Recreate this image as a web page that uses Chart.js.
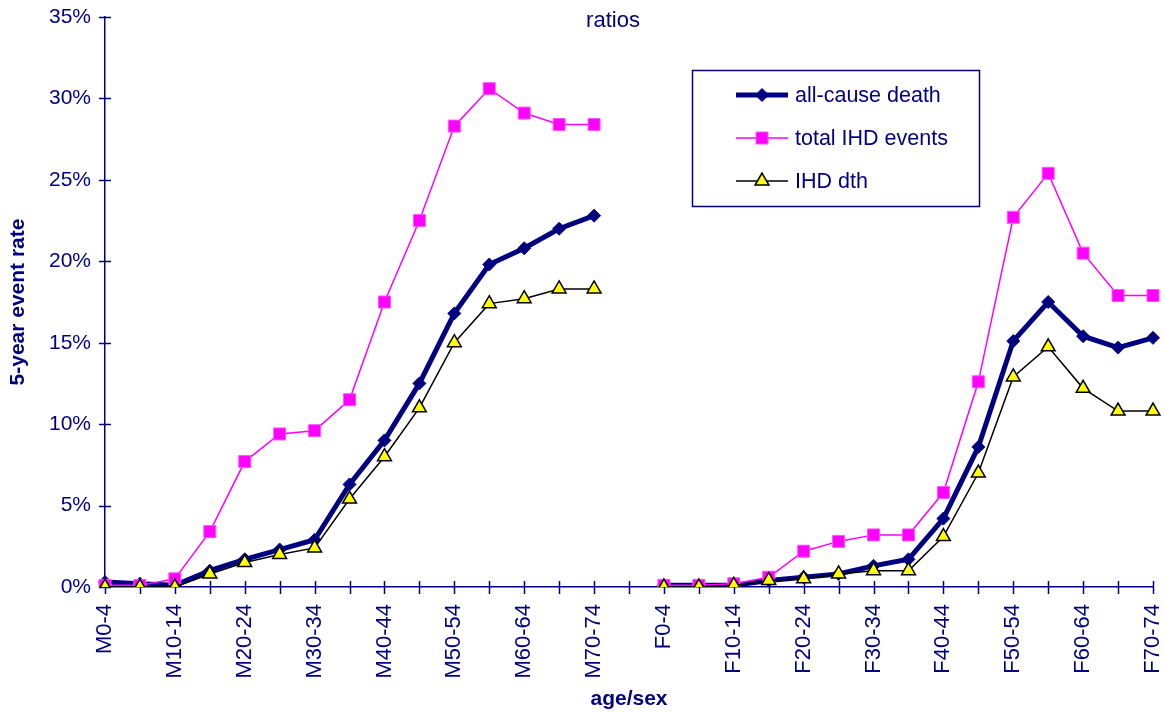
<!DOCTYPE html>
<html>
<head>
<meta charset="utf-8">
<script src="https://cdn.jsdelivr.net/npm/chart.js@4.4.0/dist/chart.umd.min.js"></script>
<style>
  html, body { margin: 0; padding: 0; background: #fff; }
  #wrap { width: 1164px; height: 715px; }
</style>
</head>
<body>
<div id="wrap"><canvas id="chart" width="1164" height="715"></canvas></div>
<script>
// Categories (M = male, F = female), one blank slot between the two halves
const maleGroups = ['M0-4', 'M5-9', 'M10-14', 'M15-19', 'M20-24', 'M25-29', 'M30-34', 'M35-39',
  'M40-44', 'M45-49', 'M50-54', 'M55-59', 'M60-64', 'M65-69', 'M70-74'];
const femaleGroups = ['F0-4', 'F5-9', 'F10-14', 'F15-19', 'F20-24', 'F25-29', 'F30-34', 'F35-39',
  'F40-44', 'F45-49', 'F50-54', 'F55-59', 'F60-64', 'F65-69', 'F70-74'];

// 5-year event rates, %
const maleAllCause = [0.3, 0.2, 0.1, 1.0, 1.7, 2.3, 2.9, 6.3, 9.0, 12.5, 16.8, 19.8, 20.8, 22.0, 22.8];
const femaleAllCause = [0.1, 0.1, 0.1, 0.4, 0.6, 0.8, 1.3, 1.7, 4.2, 8.6, 15.1, 17.5, 15.4, 14.7, 15.3];

const maleIhdEvents = [0.1, 0.1, 0.5, 3.4, 7.7, 9.4, 9.6, 11.5, 17.5, 22.5, 28.3, 30.6, 29.1, 28.4, 28.4];
const femaleIhdEvents = [0.1, 0.1, 0.2, 0.6, 2.2, 2.8, 3.2, 3.2, 5.8, 12.6, 22.7, 25.4, 20.5, 17.9, 17.9];

const maleIhdDeath = [0.0, 0.0, 0.0, 0.8, 1.5, 2.0, 2.4, 5.4, 8.0, 11.0, 15.0, 17.4, 17.7, 18.3, 18.3];
const femaleIhdDeath = [0.0, 0.0, 0.1, 0.4, 0.5, 0.8, 1.0, 1.0, 3.1, 7.0, 12.9, 14.75, 12.2, 10.8, 10.8];

const yTicks = [0, 5, 10, 15, 20, 25, 30, 35];

const categories = [...maleGroups, '', ...femaleGroups];
const joinSeries = (m, f) => [...m, null, ...f];

const NAVY = '#000080';
const FONT = 'Arial, "Liberation Sans", sans-serif';

// Crossing tick marks, title, and the boxed legend
const decorations = {
  id: 'decorations',
  beforeDatasetsDraw(chart) {
    const { ctx, chartArea, scales: { x, y } } = chart;
    ctx.save();
    ctx.strokeStyle = NAVY;
    ctx.lineWidth = 1.5;
    ctx.beginPath();
    categories.forEach((c, i) => {
      const px = Math.round(x.getPixelForValue(i)) + 0.5;
      ctx.moveTo(px, chartArea.bottom - 6);
      ctx.lineTo(px, chartArea.bottom + 7);
    });
    yTicks.forEach(v => {
      const py = Math.round(y.getPixelForValue(v)) + 0.5;
      ctx.moveTo(chartArea.left - 6, py);
      ctx.lineTo(chartArea.left + 6, py);
    });
    ctx.stroke();
    ctx.restore();
  },
  afterDraw(chart) {
    const { ctx } = chart;
    ctx.save();
    // title
    ctx.fillStyle = NAVY;
    ctx.font = '22px ' + FONT;
    ctx.textAlign = 'center';
    ctx.textBaseline = 'middle';
    ctx.fillText('ratios', 613, 21);

    // legend box
    ctx.fillStyle = '#fff';
    ctx.fillRect(692, 70, 287, 136);
    ctx.strokeStyle = NAVY;
    ctx.lineWidth = 1.5;
    ctx.strokeRect(692.5, 70.5, 287, 136);

    const rows = [95, 138, 181];
    chart.data.datasets.forEach((ds, i) => {
      const yy = rows[i];
      ctx.strokeStyle = ds.borderColor;
      ctx.lineWidth = ds.borderWidth;
      ctx.beginPath();
      ctx.moveTo(736, yy);
      ctx.lineTo(788, yy);
      ctx.stroke();
      ctx.fillStyle = ds.pointBackgroundColor;
      ctx.strokeStyle = ds.pointBorderColor;
      ctx.lineWidth = ds.pointBorderWidth;
      Chart.helpers.drawPoint(ctx, {
        pointStyle: ds.pointStyle,
        radius: ds.pointRadius,
        borderWidth: ds.pointBorderWidth,
        rotation: 0
      }, 762, yy);
      ctx.fillStyle = NAVY;
      ctx.font = '21.5px ' + FONT;
      ctx.textAlign = 'left';
      ctx.fillText(ds.label, 795, yy + 1);
    });
    ctx.restore();
  }
};

new Chart(document.getElementById('chart'), {
  type: 'line',
  data: {
    labels: categories,
    datasets: [
      {
        label: 'all-cause death',
        data: joinSeries(maleAllCause, femaleAllCause),
        borderColor: NAVY,
        borderWidth: 5,
        pointStyle: 'rectRot',
        pointRadius: 6.5,
        pointBackgroundColor: NAVY,
        pointBorderColor: NAVY,
        pointBorderWidth: 1,
        order: 3
      },
      {
        label: 'total IHD events',
        data: joinSeries(maleIhdEvents, femaleIhdEvents),
        borderColor: '#FF00FF',
        borderWidth: 1.5,
        pointStyle: 'rect',
        pointRadius: 8.5,
        pointBackgroundColor: '#FF00FF',
        pointBorderColor: '#FF55FF',
        pointBorderWidth: 1,
        order: 2
      },
      {
        label: 'IHD dth',
        data: joinSeries(maleIhdDeath, femaleIhdDeath),
        borderColor: '#000000',
        borderWidth: 1.5,
        pointStyle: 'triangle',
        pointRadius: 8,
        pointBackgroundColor: '#FFFF00',
        pointBorderColor: '#000000',
        pointBorderWidth: 1.5,
        order: 1
      }
    ]
  },
  options: {
    responsive: false,
    animation: false,
    devicePixelRatio: 1,
    layout: { padding: { top: 17, right: 11, bottom: 0, left: 0 } },
    elements: { line: { tension: 0 } },
    plugins: {
      legend: { display: false },
      tooltip: { enabled: false }
    },
    scales: {
      x: {
        offset: false,
        grid: { display: false, drawTicks: true, tickLength: 8 },
        border: { display: true, color: NAVY, width: 1.5 },
        ticks: {
          autoSkip: false,
          maxRotation: 90,
          minRotation: 90,
          padding: 9,
          color: NAVY,
          font: { family: FONT, size: 22 },
          callback: (v, i) => (i % 2 === 0 ? categories[i] : '')
        },
        title: {
          display: true,
          text: 'age/sex',
          color: NAVY,
          font: { family: FONT, size: 21, weight: 'bold' },
          padding: { top: 0, bottom: 3 }
        },
        afterFit: s => {
          s.height = 128;
          s.paddingLeft = 0;
          s.paddingRight = 0;
        }
      },
      y: {
        min: 0,
        max: 35,
        grid: { display: false, drawTicks: true, tickLength: 6 },
        border: { display: true, color: NAVY, width: 1.5 },
        ticks: {
          stepSize: 5,
          padding: 8,
          color: NAVY,
          font: { family: FONT, size: 21 },
          callback: v => v + '%'
        },
        title: {
          display: true,
          text: '5-year event rate',
          color: NAVY,
          font: { family: FONT, size: 21, weight: 'bold' },
          padding: { top: 6, bottom: 0 }
        },
        afterFit: s => {
          s.width = 105;
          s.paddingTop = 0;
          s.paddingBottom = 0;
        }
      }
    }
  },
  plugins: [decorations]
});
</script>
</body>
</html>
